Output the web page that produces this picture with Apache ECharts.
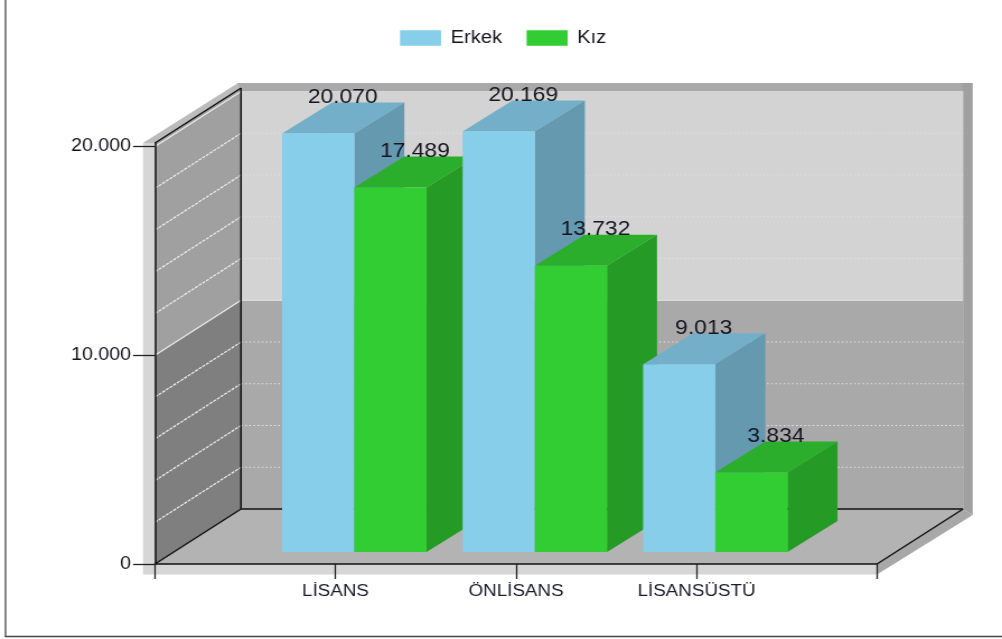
<!DOCTYPE html>
<html><head><meta charset="utf-8">
<style>
html,body{margin:0;padding:0;background:#fff;overflow:hidden}
#c{width:895px;height:639px;transform-origin:0 0;transform:scaleX(1.11955)}
</style>
<script src="https://cdn.jsdelivr.net/npm/echarts@6/dist/echarts.min.js"></script>
</head><body><div id="c"></div>
<script>
const categories = ['LİSANS', 'ÖNLİSANS', 'LİSANSÜSTÜ'];
const erkek = [20070, 20169, 9013];
const kiz = [17489, 13732, 3834];
const yTicks = [0, 10000, 20000];
const wallLines = [2000, 4000, 6000, 8000, 10000, 12000, 14000, 16000, 18000, 20000];
const yMax = 20169;

const SX = 1002 / 895;
const X = v => v / SX;
const fmt = v => String(v).replace(/\B(?=(\d{3})+$)/g, '.');
const axisCats = ['', ...categories, ''];
const WALL_DX = X(86), WALL_DY = 55;
const BAR_DX = X(50), BAR_DY = 31;
const FRONT_DX = X(18.8), FRONT_DY = 12;
const LABEL_DX = X(24.5), LABEL_DY = 36;
const FONT = '"Liberation Sans", Arial, sans-serif';

function poly(points, fill, z2) {
  return { type: 'polygon', silent: true, z2: z2 || 0, shape: { points }, style: { fill, stroke: null } };
}
function line(x1, y1, x2, y2, stroke, w, dash, z2) {
  return { type: 'line', silent: true, z2: z2 || 0, shape: { x1, y1, x2, y2 },
    style: { stroke, lineWidth: w, lineDash: dash || null } };
}

function renderWalls(params, api) {
  const o = api.coord([0, 0]);
  const r = api.coord([axisCats.length - 1, 0]);
  const yTop = api.coord([0, yMax])[1];
  const y10 = api.coord([0, 10000])[1];
  const y20 = api.coord([0, 20000])[1];
  const bx = o[0] + WALL_DX, brx = r[0] + WALL_DX;
  const by = o[1] - WALL_DY;
  const fl = X(12), fr = X(9.7), fb = 10.5;
  const kids = [
    // outer frame strips
    poly([[o[0] - fl, yTop], [o[0], yTop], [o[0], o[1] + fb], [o[0] - fl, o[1] + fb]], '#d6d6d6'),
    poly([[o[0], o[1]], [r[0], o[1]], [r[0], o[1] + fb], [o[0], o[1] + fb]], '#d6d6d6'),
    poly([[o[0] - fl, yTop], [o[0], yTop], [bx, yTop - WALL_DY], [bx, yTop - WALL_DY - 5], [bx - X(3), yTop - WALL_DY - 5]], '#bcbcbc'),
    poly([[bx - X(3), yTop - WALL_DY - 5], [brx + fr, yTop - WALL_DY - 5], [brx, y20 - WALL_DY], [bx, y20 - WALL_DY]], '#a9a9a9'),
    poly([[brx, yTop - WALL_DY - 5], [brx + fr, yTop - WALL_DY - 5], [brx + fr, by + 6], [brx, by]], '#a0a0a0'),
    poly([[brx, by], [brx + fr, by + 6], [r[0], o[1] + fb], [r[0], o[1]]], '#a8a8a8'),
    // back wall
    poly([[bx, y20 - WALL_DY], [brx, y20 - WALL_DY], [brx, y10 - WALL_DY], [bx, y10 - WALL_DY]], '#d3d3d3'),
    poly([[bx, y10 - WALL_DY], [brx, y10 - WALL_DY], [brx, by], [bx, by]], '#a9a9a9'),
    // side wall
    poly([[o[0], yTop], [bx, yTop - WALL_DY], [bx, y10 - WALL_DY], [o[0], y10]], '#a0a0a0'),
    poly([[o[0], y10], [bx, y10 - WALL_DY], [bx, by], [o[0], o[1]]], '#7f7f7f'),
    // floor
    poly([[o[0], o[1]], [bx, by], [brx, by], [r[0], o[1]]], '#b3b3b3')
  ];
  wallLines.forEach(v => {
    const y = api.coord([0, v])[1];
    const solid = v % 10000 === 0;
    kids.push(line(o[0], y, bx, y - WALL_DY, '#e8e8e8', 1.3, solid ? null : [3, 1], 1));
    if (v !== 20000) kids.push(line(bx, y - WALL_DY, brx, y - WALL_DY, solid ? '#e4e4e4' : '#e2e2e2', 1.2, solid ? null : [1.5, 2.2], 1));
  });
  kids.push(
    line(bx, yTop - WALL_DY, bx, by, '#111', 1.5, null, 2),
    line(o[0], yTop, bx, yTop - WALL_DY, '#111', 1.5, null, 2),
    line(o[0], o[1], bx, by, '#111', 1.5, null, 2),
    line(bx, by, brx, by, '#111', 1.5, null, 2),
    line(r[0], o[1], brx, by, '#111', 1.5, null, 2)
  );
  return { type: 'group', children: kids };
}

function barRenderer(side, front, topc, sidec) {
  return function (params, api) {
    const i = api.value(0), v = api.value(1);
    const t = api.coord([i, v]);
    const b = api.coord([i, 0]);
    const band = api.coord([i + 1, 0])[0] - b[0];
    const w = band * 0.4;
    const x0 = t[0] + FRONT_DX + side * w, x1 = x0 + w;
    const yt = t[1] - FRONT_DY + 0.5, yb = b[1] - FRONT_DY;
    const base = i * 10 + (side + 1) * 2;
    return { type: 'group', children: [
      poly([[x0, yt], [x1, yt], [x1 + BAR_DX, yt - BAR_DY], [x0 + BAR_DX, yt - BAR_DY]], topc, base),
      poly([[x1, yt], [x1 + BAR_DX, yt - BAR_DY], [x1 + BAR_DX, yb - BAR_DY], [x1, yb]], sidec, base),
      poly([[x0, yt], [x1, yt], [x1, yb], [x0, yb]], front, base + 1),
      { type: 'text', silent: true, z2: 1000, style: {
          text: fmt(v), x: (x0 + x1) / 2 + LABEL_DX, y: yt - LABEL_DY,
          align: 'center', verticalAlign: 'middle',
          font: '20.4px ' + FONT, fill: '#15151f' } }
    ] };
  };
}

const chart = echarts.init(document.getElementById('c'), null, { renderer: 'canvas', width: 895, height: 639 });
chart.setOption({
  animation: false,
  backgroundColor: '#fff',
  textStyle: { fontFamily: FONT },
  graphic: [
    { type: 'line', silent: true, shape: { x1: X(5.5), y1: 0, x2: X(5.5), y2: 637 }, style: { stroke: '#555', lineWidth: 1.4 } },
    { type: 'line', silent: true, shape: { x1: X(5), y1: 636.5, x2: X(1002), y2: 636.5 }, style: { stroke: '#444', lineWidth: 1.6 } }
  ],
  legend: {
    data: ['Erkek', 'Kız'], left: X(400), top: 29, padding: 0,
    icon: 'rect', itemWidth: X(41), itemHeight: 15.5, itemGap: X(24.5), selectedMode: false,
    textStyle: { fontFamily: FONT, fontSize: 18, color: '#15151f', padding: [2, 0, 0, X(4)] }
  },
  grid: { left: X(155), right: X(125), top: 143, bottom: 75 },
  xAxis: {
    type: 'category', data: axisCats, boundaryGap: false,
    axisLine: { lineStyle: { color: '#111', width: 1.5 } },
    axisTick: { length: 15, alignWithLabel: true, interval: 0, lineStyle: { color: '#222', width: 1.3 } },
    axisLabel: { interval: 0, margin: 19, color: '#1c1c30', fontFamily: FONT, fontSize: 16.8,
      showMinLabel: true, showMaxLabel: true, hideOverlap: false },
    splitLine: { show: false }
  },
  yAxis: {
    type: 'value', min: 0, max: yMax, interval: 10000,
    axisLine: { show: true, lineStyle: { color: '#111', width: 1.5 } },
    axisTick: { show: true, length: X(22), customValues: yTicks, lineStyle: { color: '#222', width: 1.3 } },
    axisLabel: { margin: X(24), customValues: yTicks, formatter: v => fmt(v), color: '#15151f', fontFamily: FONT, fontSize: 17.5, padding: [2, 0, 0, 0] },
    splitLine: { show: false }
  },
  series: [
    { type: 'custom', name: 'walls', z: -1, silent: true, data: [[0, 0]], renderItem: renderWalls, clip: false, tooltip: { show: false } },
    { type: 'custom', name: 'Erkek', z: 3, silent: true, clip: false, itemStyle: { color: '#87ceeb' },
      data: erkek.map((v, i) => [i + 1, v]), encode: { x: 0, y: 1 },
      renderItem: barRenderer(-1, '#87ceeb', '#73afc8', '#6599b0') },
    { type: 'custom', name: 'Kız', z: 3, silent: true, clip: false, itemStyle: { color: '#32cd32' },
      data: kiz.map((v, i) => [i + 1, v]), encode: { x: 0, y: 1 },
      renderItem: barRenderer(0, '#32cd32', '#2bae2b', '#259a25') }
  ]
});
</script></body></html>
